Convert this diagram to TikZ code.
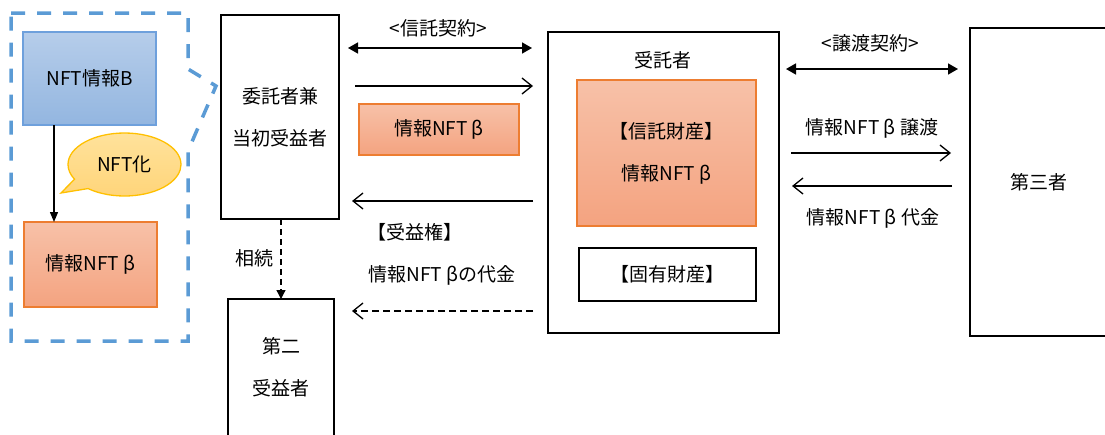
\documentclass[tikz,border=0pt]{standalone}
\usepackage{fontspec}
\setmainfont{Noto Sans CJK JP}
\usetikzlibrary{arrows.meta,shapes.geometric,shapes.callouts}
\definecolor{dblue}{RGB}{91,155,213}
\definecolor{oborder}{RGB}{237,125,49}
\definecolor{otop}{RGB}{247,193,168}
\definecolor{obot}{RGB}{244,163,128}
\definecolor{btop}{RGB}{182,205,234}
\definecolor{bbot}{RGB}{147,182,224}
\definecolor{bborder}{RGB}{110,160,220}
\definecolor{ytop}{RGB}{255,226,155}
\definecolor{ybot}{RGB}{255,212,120}
\definecolor{yborder}{RGB}{255,192,0}
\tikzset{
  txt/.style={font=\fontsize{19}{42}\selectfont, inner sep=0pt, outer sep=0pt, align=center},
  party/.style={txt, draw=black, line width=2pt},
  thinbox/.style={txt, draw=black, line width=1.3pt},
  orangebox/.style={txt, draw=oborder, line width=1.3pt, top color=otop, bottom color=obot},
  bluebox/.style={txt, draw=bborder, line width=1.3pt, top color=btop, bottom color=bbot},
  bubble/.style={txt, ellipse callout, draw=yborder, line width=1.3pt, top color=ytop, bottom color=ybot, callout pointer arc=22},
  conn/.style={line width=1.3pt},
  openarr/.style={conn, -{Straight Barb[length=10pt,width=16pt]}},
  dblarr/.style={line width=1.6pt, {Triangle[length=10pt,width=11pt]}-{Triangle[length=10pt,width=11pt]}},
  dashbox/.style={draw=dblue, line width=3.5pt, dash pattern=on 14pt off 12pt},
}
\begin{document}
\begin{tikzpicture}[x=1pt,y=-1pt]
\useasboundingbox (0,0) rectangle (1105,434);

% dashed callout frame
\draw[dashbox] (11,13) -- (188,13) -- (188,69) -- (216,86) -- (188,151) -- (188,341) -- (11,341) -- cycle;

% left group
\node[bluebox, minimum width=133pt, minimum height=93pt] (nftB) at (89.5,78.5) {NFT情報B};
\node[orangebox, minimum width=133pt, minimum height=85pt] (nftbeta) at (90.5,264.5) {情報NFT β};
\node[bubble, minimum width=113pt, minimum height=63pt, callout absolute pointer={(61,193)}] (bub) at (124.5,164.5) {NFT化};
\draw[conn, -{Triangle[length=10pt,width=8pt]}] (nftB.south -| 54,0) -- (nftbeta.north -| 54,0);

% parties
\node[party, minimum width=118pt, minimum height=204pt] (settlor) at (280,117) {委託者兼\\当初受益者};
\node[party, minimum width=106pt, minimum height=137pt] (second) at (281,367.5) {第二\\受益者};
\node[party, minimum width=231pt, minimum height=301pt] (trustee) at (663.5,182.5) {};
\node[txt] (trusteelbl) at (663,60) {受託者};
\node[orangebox, minimum width=179pt, minimum height=146pt] (trustprop) at (666.5,153) {【信託財産】\\情報NFT β};
\node[thinbox, minimum width=177pt, minimum height=53pt] (ownprop) at (667.5,274.5) {【固有財産】};
\node[party, minimum width=137pt, minimum height=308pt] (third) at (1038.5,182) {第三者};

% middle
\node[orangebox, minimum width=160pt, minimum height=51pt] (nftmid) at (439,129.5) {情報NFT β};
\node[txt] (trustcontract) at (438,28) {<信託契約>};
\node[txt] (benef) at (415,232) {【受益権】};
\node[txt] (price) at (442,275) {情報NFT βの代金};
\node[txt] (inherit) at (254,258) {相続};

\draw[dblarr] ([xshift=9pt]settlor.east |- 0,48) -- ([xshift=-16pt]trustee.west |- 0,48);
\draw[openarr] ([xshift=16pt]settlor.east |- 0,86) -- ([xshift=-15pt]trustee.west |- 0,86);
\draw[openarr] ([xshift=-15pt]trustee.west |- 0,201) -- ([xshift=13pt]settlor.east |- 0,201);
\draw[openarr, dash pattern=on 7pt off 4pt] ([xshift=-15pt]trustee.west |- 0,311) -- ([xshift=13pt]settlor.east |- 0,311);
\draw[conn, dash pattern=on 6pt off 4pt, -{Triangle[length=9pt,width=9pt]}] (settlor.south -| 281,0) -- (second.north -| 281,0);

% right
\node[txt] (transcontract) at (870,43) {<譲渡契約>};
\node[txt] (transfer) at (872,128) {情報NFT β 譲渡};
\node[txt] (transprice) at (873,218) {情報NFT β 代金};
\draw[dblarr] ([xshift=7pt]trustee.east |- 0,69) -- ([xshift=-12pt]third.west |- 0,69);
\draw[openarr] ([xshift=12pt]trustee.east |- 0,153) -- ([xshift=-19pt]third.west |- 0,153);
\draw[openarr] ([xshift=-18pt]third.west |- 0,186) -- ([xshift=13pt]trustee.east |- 0,186);
\end{tikzpicture}
\end{document}
